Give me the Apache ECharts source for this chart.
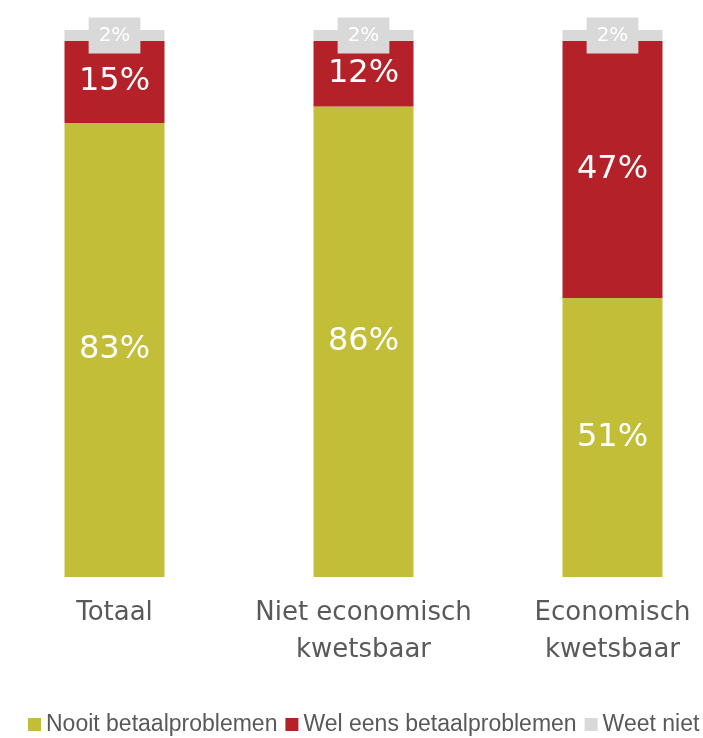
<!DOCTYPE html>
<html><head><meta charset="utf-8">
<script src="https://cdn.jsdelivr.net/npm/echarts@6/dist/echarts.min.js"></script>
<style>html,body{margin:0;padding:0;background:#fff}#c{width:703px;height:738px}</style>
</head><body><div id="c"></div>
<script>
var categories = ['Totaal', 'Niet economisch\nkwetsbaar', 'Economisch\nkwetsbaar'];
var nooit = [83, 86, 51];
var welEens = [15, 12, 47];
var weetNiet = [2, 2, 2];
var seriesNames = ['Nooit betaalproblemen', 'Wel eens betaalproblemen', 'Weet niet'];

var chart = echarts.init(document.getElementById('c'), null, {renderer: 'canvas'});
var font = 'DejaVu Sans';
function inLabel(size) {
  return {show: true, position: 'inside', color: '#fff', fontSize: size, fontFamily: font, formatter: '{c}%'};
}
chart.setOption({
  animation: false,
  grid: {left: 114.5, right: 90.5, top: 30, bottom: 161},
  legend: {
    top: 713, left: 28, width: 700, padding: 0, itemWidth: 13, itemHeight: 13, itemGap: 8,
    icon: 'rect',
    textStyle: {color: '#595959', fontSize: 23, fontFamily: 'Liberation Sans'},
    data: seriesNames
  },
  xAxis: {
    type: 'category', data: categories, boundaryGap: false,
    axisLine: {show: false}, axisTick: {show: false},
    axisLabel: {color: '#595959', fontSize: 26, fontFamily: font, lineHeight: 37, margin: 18, interval: 0}
  },
  yAxis: {type: 'value', min: 0, max: 100, show: false, splitLine: {show: false}},
  series: [
    {name: seriesNames[0], type: 'bar', stack: 's', barWidth: 100, clip: false, data: nooit,
     itemStyle: {color: '#c3be38'}, label: inLabel(32)},
    {name: seriesNames[1], type: 'bar', stack: 's', barWidth: 100, clip: false, data: welEens,
     itemStyle: {color: '#b52129'}, label: inLabel(32)},
    {name: seriesNames[2], type: 'bar', stack: 's', barWidth: 100, clip: false, data: weetNiet,
     itemStyle: {color: '#d9d9d9'},
     label: {show: true, position: 'inside', color: '#fff', fontSize: 20, fontFamily: font,
             lineHeight: 20, formatter: '{c}%',
             backgroundColor: '#d9d9d9', padding: [8, 10, 8, 10]}}
  ]
});
</script></body></html>
